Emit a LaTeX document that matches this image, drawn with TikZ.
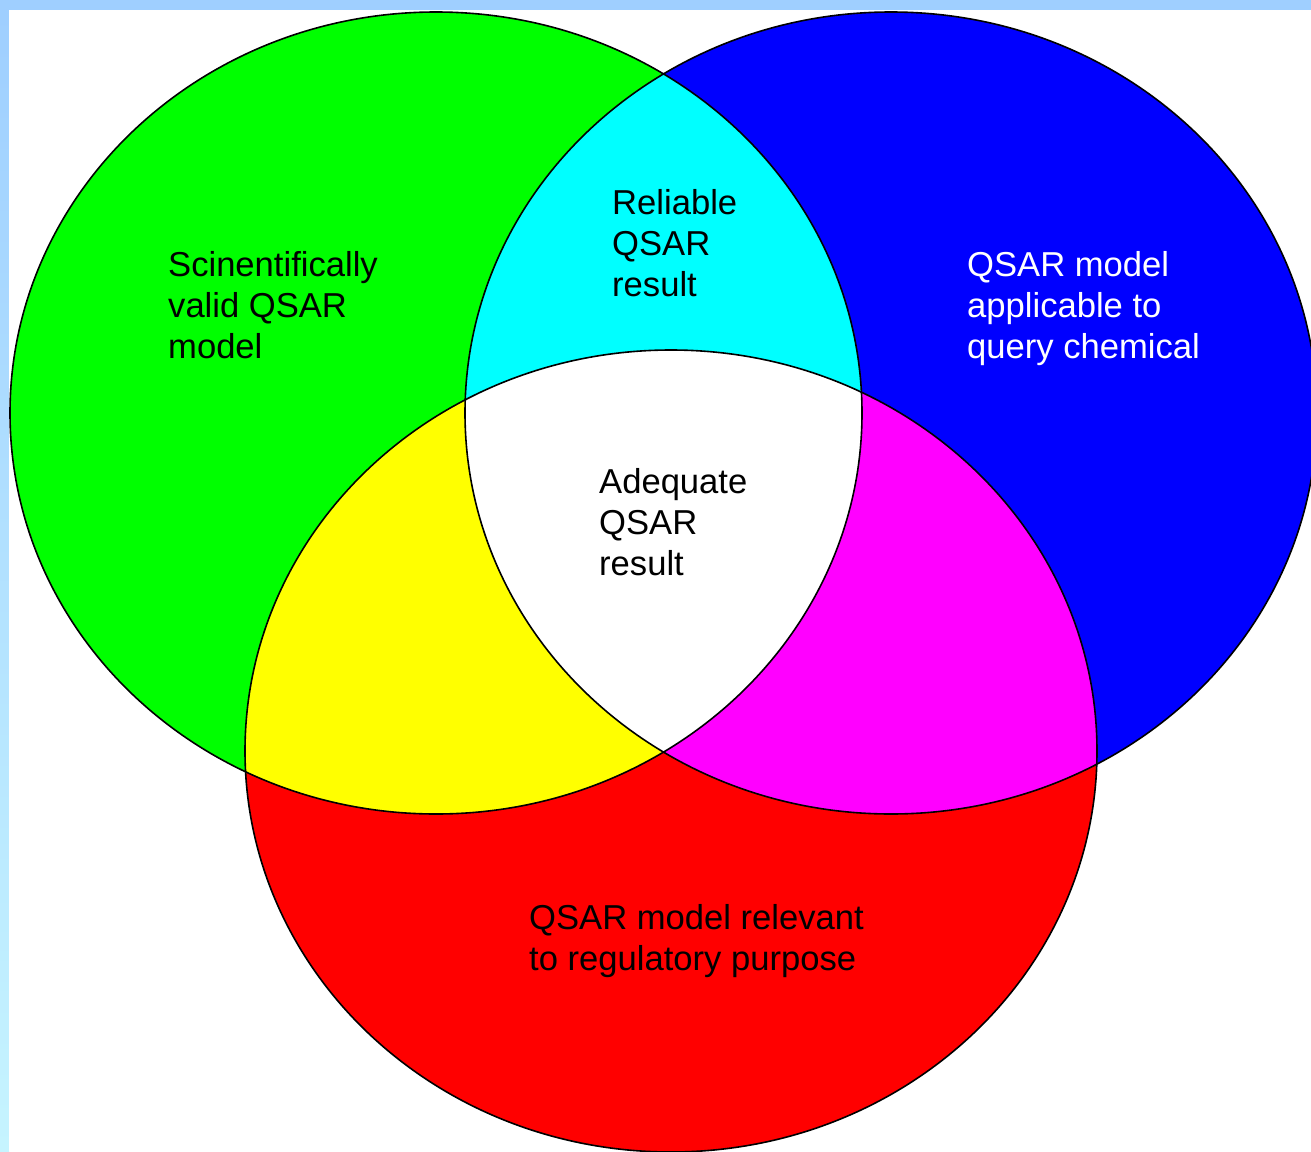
\documentclass[tikz,border=0pt]{standalone}
\usepackage{fontspec}
\setmainfont{Liberation Sans}
\definecolor{bandblue}{RGB}{159,207,255}
\definecolor{bandcyan}{RGB}{198,244,255}
\definecolor{vgreen}{RGB}{0,255,0}
\definecolor{vblue}{RGB}{0,0,255}
\definecolor{vred}{RGB}{255,0,0}
\definecolor{vcyan}{RGB}{0,255,255}
\definecolor{vyellow}{RGB}{255,255,0}
\definecolor{vmagenta}{RGB}{255,0,255}
\newcommand\greenpath{(436,413) ellipse [x radius=426pt, y radius=401pt]}
\newcommand\bluepath{(891,413) ellipse [x radius=426pt, y radius=401pt]}
\newcommand\redpath{(671,751) ellipse [x radius=426pt, y radius=401pt]}
\begin{document}
\begin{tikzpicture}[x=1pt,y=-1pt,
  lbl/.style={anchor=north west, inner sep=0pt, align=left, font=\fontsize{34.6}{41}\selectfont},
  outline/.style={draw=black, line width=1.6pt}]
\useasboundingbox (0,0) rectangle (1311,1151);
\fill[bandblue] (0,0) rectangle (1311,10);
\shade[top color=bandblue, bottom color=bandcyan] (0,10) rectangle (9,1151);
\fill[white] (9,10) rectangle (1311,1151);
\begin{scope}
  \clip (9,10) rectangle (1311,1151);
  \fill[vgreen] \greenpath;
  \fill[vblue] \bluepath;
  \fill[vred] \redpath;
  \begin{scope}
    \clip \greenpath;
    \fill[vcyan] \bluepath;
    \fill[vyellow] \redpath;
  \end{scope}
  \begin{scope}
    \clip \bluepath;
    \fill[vmagenta] \redpath;
  \end{scope}
  \begin{scope}
    \clip \greenpath;
    \clip \bluepath;
    \fill[white] \redpath;
  \end{scope}
  \draw[outline] \greenpath;
  \draw[outline] \bluepath;
  \draw[outline] \redpath;
\end{scope}
\node[lbl] (tvalid) at (168,251) {Scinentifically\\valid QSAR\\model};
\node[lbl] (trel) at (612,189) {Reliable\\QSAR\\result};
\node[lbl, text=white] (tappl) at (967,251) {QSAR model\\applicable to\\query chemical};
\node[lbl] (tadeq) at (599,468) {Adequate\\QSAR\\result};
\node[lbl] (treg) at (529,904) {QSAR model relevant\\to regulatory purpose};
\end{tikzpicture}
\end{document}
